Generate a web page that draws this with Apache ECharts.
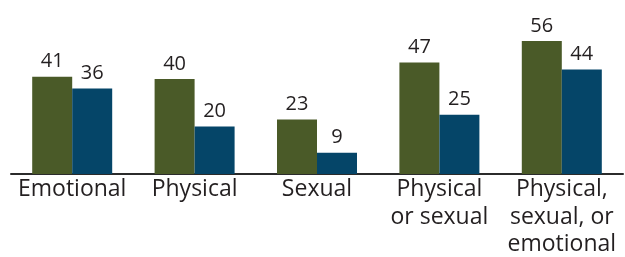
<!DOCTYPE html>
<html>
<head>
<meta charset="utf-8">
<script src="https://cdn.jsdelivr.net/npm/echarts@6/dist/echarts.min.js"></script>
<style>
  html, body { margin: 0; padding: 0; background: #fff; }
  #chart { width: 625px; height: 257px; }
</style>
</head>
<body>
<div id="chart"></div>
<script>
const categories = ["Emotional", "Physical", "Sexual", "Physical\nor sexual", "Physical,\nsexual, or\nemotional"];
const greenValues = [41, 40, 23, 47, 56];
const blueValues = [36, 20, 9, 25, 44];

const chart = echarts.init(document.getElementById("chart"));
const labelStyle = {
  show: true,
  position: "top",
  distance: 5,
  color: "#231f20",
  fontFamily: "Open Sans",
  fontSize: 20
};
chart.setOption({
  animation: false,
  grid: { left: 11, right: 2, top: 31.5, bottom: 83, containLabel: false, outerBoundsMode: "none" },
  xAxis: {
    type: "category",
    data: categories,
    axisLine: { lineStyle: { color: "#2b2b2b", width: 2 } },
    axisTick: { show: false },
    axisLabel: {
      color: "#231f20",
      fontFamily: "Open Sans",
      fontSize: 23,
      lineHeight: 27.5,
      margin: 2,
      interval: 0
    }
  },
  yAxis: {
    type: "value",
    min: 0,
    max: 60,
    show: false
  },
  series: [
    {
      type: "bar",
      data: greenValues,
      barWidth: 40,
      barGap: "0%",
      itemStyle: { color: "#4a5a28" },
      label: labelStyle
    },
    {
      type: "bar",
      data: blueValues,
      barWidth: 40,
      itemStyle: { color: "#054568" },
      label: labelStyle
    }
  ]
});
</script>
</body>
</html>
